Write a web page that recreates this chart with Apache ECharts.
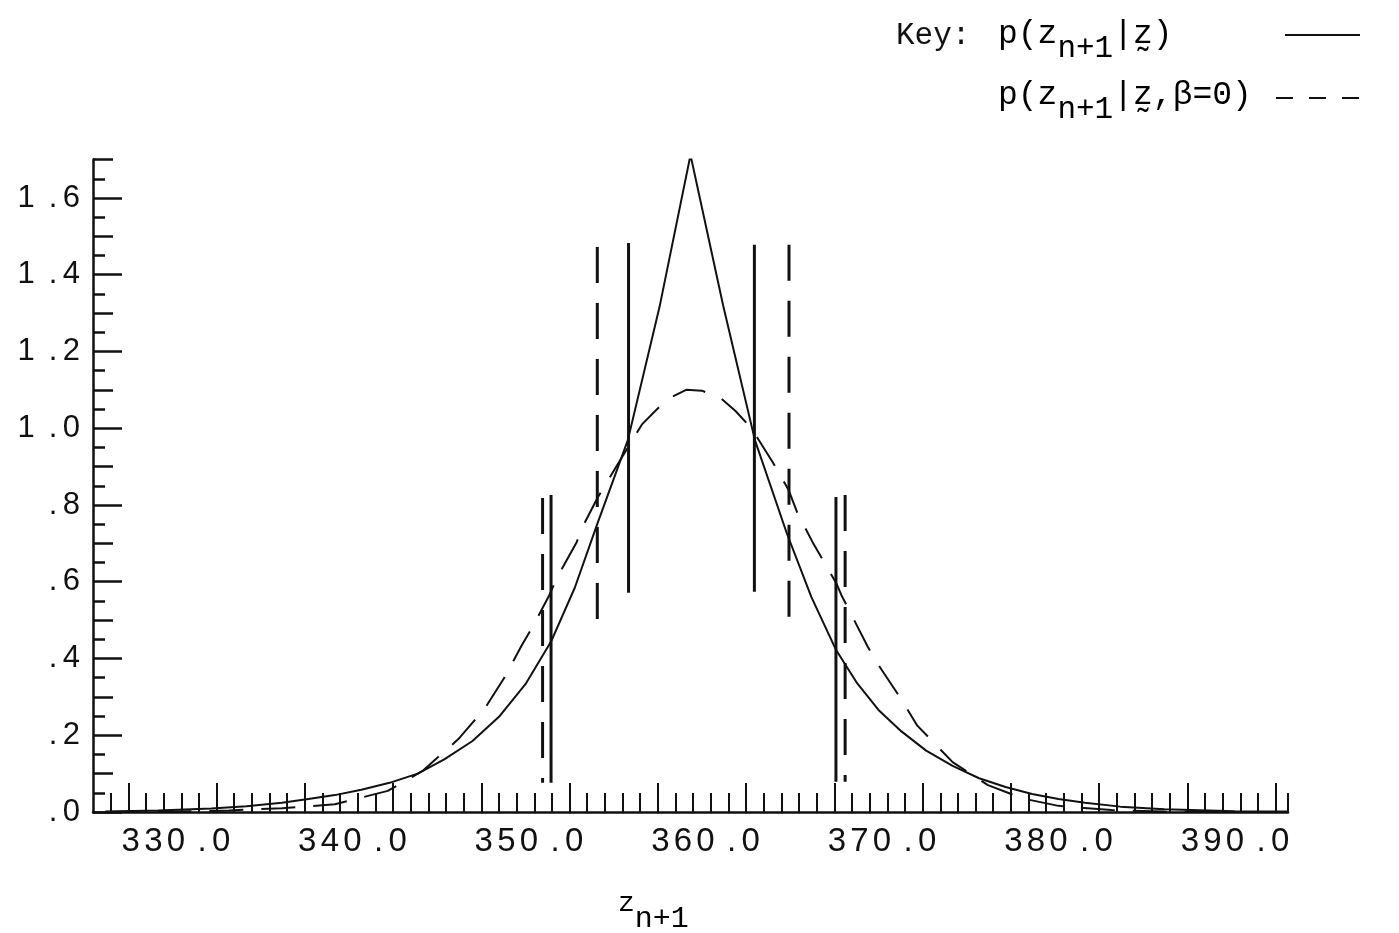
<!DOCTYPE html>
<html><head><meta charset="utf-8">
<script src="https://cdn.jsdelivr.net/npm/echarts@6/dist/echarts.min.js"></script>
<style>html,body{margin:0;padding:0;background:#fff}#c{width:1399px;height:933px}</style>
</head><body><div id="c"></div>
<script>
// ---- data ----
const solidX = [326.0, 329.0, 332.0, 334.0, 336.0, 337.5, 339.0, 340.5, 342.1, 343.7, 345.2, 346.8, 348.3, 349.8, 351.25, 352.6, 353.85, 355.6, 357.4, 359.15, 361.0, 362.8, 364.6, 366.0, 367.4, 368.6, 369.8, 371.1, 372.5, 374.0, 375.5, 377.0, 378.5, 380.0, 381.5, 383.5, 386.0, 390.0, 393.0];
const solidY = [0.001, 0.004, 0.009, 0.015, 0.024, 0.034, 0.044, 0.058, 0.076, 0.10, 0.137, 0.185, 0.248, 0.333, 0.444, 0.585, 0.748, 0.969, 1.317, 1.712, 1.32, 0.969, 0.727, 0.56, 0.422, 0.335, 0.266, 0.21, 0.16, 0.12, 0.088, 0.065, 0.047, 0.034, 0.024, 0.014, 0.007, 0.002, 0.001];
const dashedX = [326.0, 330.0, 333.0, 336.0, 339.0, 342.0, 344.0, 346.0, 347.5, 348.6, 349.6, 350.2, 351.15, 351.6, 352.7, 353.0, 353.9, 355.1, 356.4, 357.8, 358.9, 359.8, 360.9, 361.7, 362.6, 363.8, 364.7, 365.2, 366.1, 367.4, 367.7, 368.2, 369.2, 369.8, 371.0, 372.0, 374.0, 376.0, 378.0, 380.0, 383.0, 386.0, 390.0, 393.0];
const dashedY = [0.0, 0.001, 0.004, 0.01, 0.02, 0.055, 0.108, 0.19, 0.27, 0.35, 0.435, 0.482, 0.565, 0.612, 0.703, 0.74, 0.82, 0.912, 1.01, 1.075, 1.10, 1.098, 1.077, 1.045, 1.0, 0.912, 0.84, 0.78, 0.70, 0.597, 0.565, 0.52, 0.43, 0.383, 0.30, 0.225, 0.13, 0.07, 0.035, 0.016, 0.005, 0.001, 0.0, 0.0];

const solidBarX = [351.25, 355.64, 362.77, 367.39];
const solidBarTop = [0.826, 1.483, 1.478, 0.821];
const solidBarBottom = [0.076, 0.571, 0.574, 0.079];
const dashedBarX = [350.77, 353.87, 364.73, 367.91];
const dashedBarTop = [0.818, 1.472, 1.478, 0.826];
const dashedBarBottom = [0.076, 0.493, 0.474, 0.079];

const xLabelValues = [330, 340, 350, 360, 370, 380, 390];
const xLabelText = ['330.0', '340.0', '350.0', '360.0', '370.0', '380.0', '390.0'];
const yLabelValues = [0, 0.2, 0.4, 0.6, 0.8, 1.0, 1.2, 1.4, 1.6];
const yLabelText = ['.0', '.2', '.4', '.6', '.8', '1.0', '1.2', '1.4', '1.6'];
const yMidTicks = [0.1, 0.3, 0.5, 0.7, 0.9, 1.1, 1.3, 1.5, 1.7];
const yMinorTicks = [0.05, 0.15, 0.25, 0.35, 0.45, 0.55, 0.65, 0.75, 0.85, 0.95, 1.05, 1.15, 1.25, 1.35, 1.45, 1.55, 1.65];
const xLongTicks = [327.3, 332.3, 337.3, 342.3, 347.3, 352.3, 357.3, 362.3, 367.3, 372.3, 377.3, 382.3, 387.3, 392.3];
const X_MIN = 325.3, X_MAX = 393.0, Y_MIN = 0, Y_MAX = 1.7;
const xMinorTicks = [];
for (let k = 1; k <= 67; k++) xMinorTicks.push(+(X_MIN + k).toFixed(2));
xMinorTicks.push(X_MAX);

// ---- rendering ----
const FONT = 'Liberation Sans';
function spaced(s) { return s.split('').map(ch => (ch === '.' ? '{p|.}' : '{c|' + ch + '}')).join(''); }
function lookup(vals, texts, v) {
  const i = vals.findIndex(a => Math.abs(a - v) < 1e-6);
  return i < 0 ? '' : spaced(texts[i]);
}
const xRich = {
  c: { width: 22.6, fontSize: 33, fontFamily: FONT, color: '#111' },
  p: { width: 15.6, padding: [0, 0, 0, 7], fontSize: 33, fontFamily: FONT, color: '#111' }
};
const yRich = {
  c: { width: 22.6, fontSize: 31, fontFamily: FONT, color: '#111' },
  p: { width: 15.6, padding: [0, 0, 0, 7], fontSize: 31, fontFamily: FONT, color: '#111' }
};

const chart = echarts.init(document.getElementById('c'), null, { renderer: 'canvas' });

const tickAxisX = (vals, len) => ({
  type: 'value', min: X_MIN, max: X_MAX, position: 'bottom', gridIndex: 0,
  axisLine: { show: false }, splitLine: { show: false },
  axisLabel: { show: false },
  axisTick: { show: true, inside: true, length: len, customValues: vals, lineStyle: { color: '#111', width: 2 } }
});
const tickAxisY = (vals, len) => ({
  type: 'value', min: Y_MIN, max: Y_MAX, position: 'left', gridIndex: 0,
  axisLine: { show: false }, splitLine: { show: false },
  axisLabel: { show: false },
  axisTick: { show: true, inside: true, length: len, customValues: vals, lineStyle: { color: '#111', width: 2.5 } }
});

const series = [
  { type: 'line', name: 'p(z_{n+1}|z)', data: solidX.map((x, i) => [x, solidY[i]]),
    symbol: 'none', smooth: false, lineStyle: { color: '#111', width: 2 }, z: 3 },
  { type: 'line', name: 'p(z_{n+1}|z,β=0)', data: dashedX.map((x, i) => [x, dashedY[i]]),
    symbol: 'none', smooth: false, lineStyle: { color: '#111', width: 2, type: [34, 18] }, z: 3 }
];
solidBarX.forEach((x, i) => series.push({
  type: 'line', name: 'solid interval ' + i, data: [[x, solidBarTop[i]], [x, solidBarBottom[i]]],
  symbol: 'none', lineStyle: { color: '#111', width: 3 }, z: 4
}));
dashedBarX.forEach((x, i) => series.push({
  type: 'line', name: 'dashed interval ' + i, data: [[x, dashedBarTop[i]], [x, dashedBarBottom[i]]],
  symbol: 'none', lineStyle: { color: '#111', width: 3, type: [36, 20] }, z: 4
}));

const MONO = 'Liberation Mono';
const keyRich = {
  m: { fontFamily: MONO, fontSize: 33, color: '#111', verticalAlign: 'top', lineHeight: 46 },
  s: { fontFamily: MONO, fontSize: 31, color: '#111', verticalAlign: 'bottom', lineHeight: 46 }
};

chart.setOption({
  animation: false,
  backgroundColor: '#fff',
  grid: { left: 93, right: 111, top: 159.6, bottom: 121 },
  xAxis: [
    {
      type: 'value', min: X_MIN, max: X_MAX, position: 'bottom',
      axisLine: { show: true, lineStyle: { color: '#111', width: 2.5 } },
      splitLine: { show: false },
      axisTick: { show: true, inside: true, length: 29, customValues: xLongTicks, lineStyle: { color: '#111', width: 2 } },
      axisLabel: { show: true, customValues: xLabelValues, margin: 13,
        formatter: v => lookup(xLabelValues, xLabelText, v), rich: xRich }
    },
    tickAxisX(xMinorTicks, 19)
  ],
  yAxis: [
    {
      type: 'value', min: Y_MIN, max: Y_MAX, position: 'left',
      axisLine: { show: true, lineStyle: { color: '#111', width: 2.5 } },
      splitLine: { show: false },
      axisTick: { show: true, inside: true, length: 29, customValues: yLabelValues, lineStyle: { color: '#111', width: 2.5 } },
      axisLabel: { show: true, customValues: yLabelValues, margin: 13,
        formatter: v => lookup(yLabelValues, yLabelText, v), rich: yRich }
    },
    tickAxisY(yMidTicks, 20),
    tickAxisY(yMinorTicks, 12)
  ],
  series: series,
  graphic: [
    { type: 'text', left: 896, top: 20, style: { text: 'Key:', fontFamily: MONO, fontSize: 31, fill: '#111' } },
    { type: 'text', left: 998, top: 18, style: { text: '{m|p(z}{s|n+1}{m|\u007cz\u0330)}', rich: keyRich } },
    { type: 'line', shape: { x1: 1285, y1: 35, x2: 1360, y2: 35 }, style: { stroke: '#111', lineWidth: 2 } },
    { type: 'text', left: 998, top: 79, style: { text: '{m|p(z}{s|n+1}{m|\u007cz\u0330,\u03b2=0)}', rich: keyRich } },
    { type: 'line', shape: { x1: 1276, y1: 98, x2: 1360, y2: 98 }, style: { stroke: '#111', lineWidth: 2, lineDash: [17, 16] } },
    { type: 'text', left: 618, top: 890, style: { text: '{z|z}{s|n+1}', rich: {
        z: { fontFamily: MONO, fontSize: 28, color: '#111', verticalAlign: 'top', lineHeight: 44 },
        s: { fontFamily: MONO, fontSize: 30, color: '#111', verticalAlign: 'bottom', lineHeight: 44 } } } }
  ]
});
</script></body></html>
